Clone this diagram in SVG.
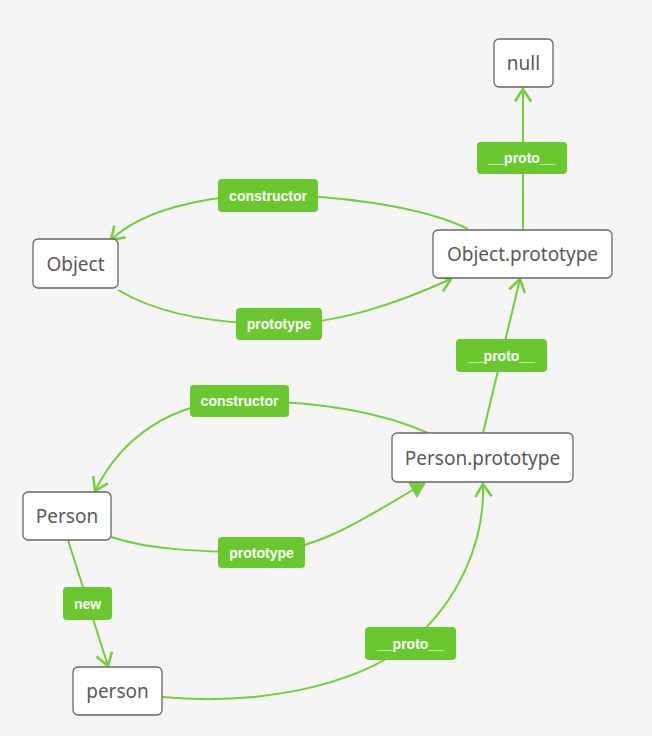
<svg xmlns="http://www.w3.org/2000/svg" width="652" height="736" viewBox="0 0 652 736">
<defs>
<style>
.node rect{fill:#ffffff;stroke:#666666;stroke-width:1.3}
.node text{font-family:"Noto Sans","DejaVu Sans",sans-serif;font-size:19px;fill:#5a5a5a;text-anchor:middle;dominant-baseline:central}
.edge{fill:none;stroke:#72cf38;stroke-width:2}
.lbl rect{fill:#68c82e}
.lbl text{font-family:"Liberation Sans",Arial,sans-serif;font-weight:bold;font-size:14px;fill:#ffffff;text-anchor:middle;dominant-baseline:central}
</style>
<marker id="open" markerUnits="userSpaceOnUse" markerWidth="20" markerHeight="20" viewBox="-12 -8 14 16" refX="0" refY="0" orient="auto">
<path d="M-10,-6.5 L0,0 L-10,6.5" fill="none" stroke="#72cf38" stroke-width="2"/>
</marker>
<marker id="filled" markerUnits="userSpaceOnUse" markerWidth="20" markerHeight="20" viewBox="-12 -8 14 16" refX="0" refY="0" orient="auto">
<path d="M-11,-6.5 L0,0 L-11,6.5 Z" fill="#72cf38" stroke="#72cf38" stroke-width="1"/>
</marker>
</defs>
<rect width="652" height="736" fill="#f5f5f5"/>
<g id="connectors">
<path class="edge" d="M523,230 L523,89" marker-end="url(#open)"/>
<path class="edge" d="M468,229 C420,205 330,195 268,195 C200,195 140,212 111,240" marker-end="url(#open)"/>
<path class="edge" d="M118,290 C160,315 220,324 279,324 C340,324 400,302 451,279" marker-end="url(#open)"/>
<path class="edge" d="M483,433 L520,279" marker-end="url(#open)"/>
<path class="edge" d="M428,433 C380,412 320,401 240,401 C170,401 120,440 95,491" marker-end="url(#open)"/>
<path class="edge" d="M111,537 C150,550 200,552 262,552 C320,552 380,508 425,483" marker-end="url(#filled)"/>
<path class="edge" d="M68,540 L108,666" marker-end="url(#open)"/>
<path class="edge" d="M162,697 C250,705 350,690 410,643 C460,600 485,540 483,484" marker-end="url(#open)"/>
</g>
<g id="edge-labels">
<g class="lbl" id="lbl-null-proto"><rect x="477" y="142" width="90" height="32" rx="4"/><text x="522" y="158">__proto__</text></g>
<g class="lbl" id="lbl-obj-constructor"><rect x="218" y="179" width="100" height="33" rx="4"/><text x="268" y="195.5">constructor</text></g>
<g class="lbl" id="lbl-obj-prototype"><rect x="236" y="308" width="86" height="32" rx="4"/><text x="279" y="324">prototype</text></g>
<g class="lbl" id="lbl-pp-proto"><rect x="456" y="339" width="91" height="33" rx="4"/><text x="501.5" y="355.5">__proto__</text></g>
<g class="lbl" id="lbl-person-constructor"><rect x="190" y="385" width="99" height="32" rx="4"/><text x="239.5" y="401">constructor</text></g>
<g class="lbl" id="lbl-person-prototype"><rect x="218" y="537" width="87" height="31" rx="4"/><text x="261.5" y="552.5">prototype</text></g>
<g class="lbl" id="lbl-new"><rect x="63" y="587" width="49" height="33" rx="4"/><text x="87.5" y="603.5">new</text></g>
<g class="lbl" id="lbl-person-proto"><rect x="365" y="627" width="91" height="33" rx="4"/><text x="410.5" y="643.5">__proto__</text></g>
</g>
<g class="node" id="node-null"><rect x="494" y="39" width="59" height="48" rx="5"/><text x="523.5" y="63">null</text></g>
<g class="node" id="node-object-prototype"><rect x="433" y="230" width="179" height="48" rx="5"/><text x="522.5" y="254">Object.prototype</text></g>
<g class="node" id="node-object"><rect x="33" y="239" width="85" height="49" rx="5"/><text x="75.5" y="263.5">Object</text></g>
<g class="node" id="node-person-prototype"><rect x="392" y="433" width="181" height="49" rx="5"/><text x="482.5" y="457.5">Person.prototype</text></g>
<g class="node" id="node-person"><rect x="23" y="492" width="88" height="48" rx="5"/><text x="67" y="516">Person</text></g>
<g class="node" id="node-person-instance"><rect x="73" y="667" width="89" height="48" rx="5"/><text x="117.5" y="691">person</text></g>
</svg>
